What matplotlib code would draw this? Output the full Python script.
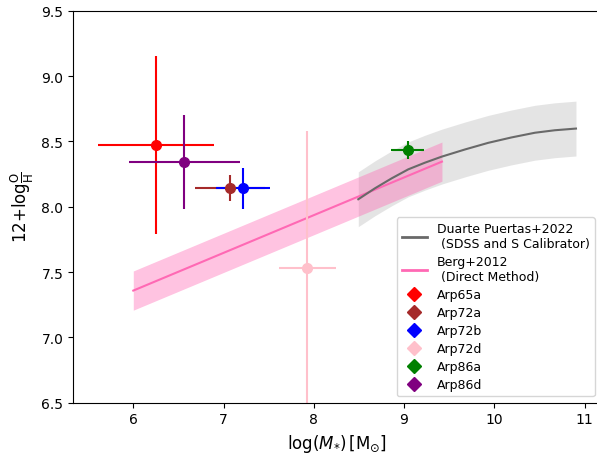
import matplotlib
matplotlib.use("Agg")
import matplotlib.pyplot as plt
from matplotlib.lines import Line2D

# galaxies: log stellar mass and 12+log(O/H) with symmetric errors
names = ["Arp65a", "Arp72a", "Arp72b", "Arp72d", "Arp86a", "Arp86d"]
colors = ["red", "brown", "blue", "pink", "green", "purple"]
logm = [6.25, 7.07, 7.22, 7.93, 9.04, 6.565]
logm_err = [0.645, 0.39, 0.30, 0.32, 0.18, 0.615]
oh = [8.47, 8.14, 8.14, 7.53, 8.435, 8.34]
oh_err = [0.68, 0.10, 0.16, 1.05, 0.07, 0.36]

# Berg+2012 relation (direct method), endpoints
berg_x = [6.0, 9.42]
berg_y = [7.358, 8.345]
berg_sig = 0.15

# Duarte Puertas+2022 relation, sampled from the figure
dp_x = [8.493, 8.678, 8.863, 9.047, 9.232, 9.417, 9.675, 9.934, 10.19, 10.45, 10.67, 10.905]
dp_y = [8.057, 8.141, 8.217, 8.286, 8.337, 8.383, 8.438, 8.489, 8.530, 8.566, 8.585, 8.598]
dp_sig = 0.21

fig = plt.figure(figsize=(5.97, 4.56), dpi=100)
ax = fig.add_axes([73 / 597, (456 - 403.7) / 456, (601 - 73) / 597, (403.7 - 11.7) / 456])

ax.fill_between(dp_x, [y - dp_sig for y in dp_y], [y + dp_sig for y in dp_y],
                color="lightgray", alpha=0.6, lw=0)
ax.fill_between(berg_x, [y - berg_sig for y in berg_y], [y + berg_sig for y in berg_y],
                color="hotpink", alpha=0.4, lw=0)
ax.plot(berg_x, berg_y, color="hotpink", lw=1.5)
ax.plot(dp_x, dp_y, color="dimgray", lw=1.5)

for x, xe, y, ye, c in zip(logm, logm_err, oh, oh_err, colors):
    ax.errorbar(x, y, xerr=xe, yerr=ye, fmt="o", color=c, ms=7, elinewidth=1.5, capsize=0)

ax.set_xlim(5.332, 6 + (601 - 133.3) / 90.25)
ax.set_ylim(6.5, 9.5)
ax.set_yticks([6.5, 7.0, 7.5, 8.0, 8.5, 9.0, 9.5])
ax.set_xlabel(r"log($M_{*}$)$\,$[M$_{\odot}$]", fontsize=12)
ax.set_ylabel(r"12+log$\frac{\rm O}{\rm H}$", fontsize=12)

handles = [
    Line2D([], [], color="dimgray", lw=2, label="Duarte Puertas+2022\n (SDSS and S Calibrator)"),
    Line2D([], [], color="hotpink", lw=2, label="Berg+2012\n (Direct Method)"),
]
for n, c in zip(names, colors):
    handles.append(Line2D([], [], color=c, marker="D", ls="none", ms=7, label=n))
ax.legend(handles=handles, loc="lower right", fontsize=9, labelspacing=0.4)

fig.savefig("out.png", dpi=100)
